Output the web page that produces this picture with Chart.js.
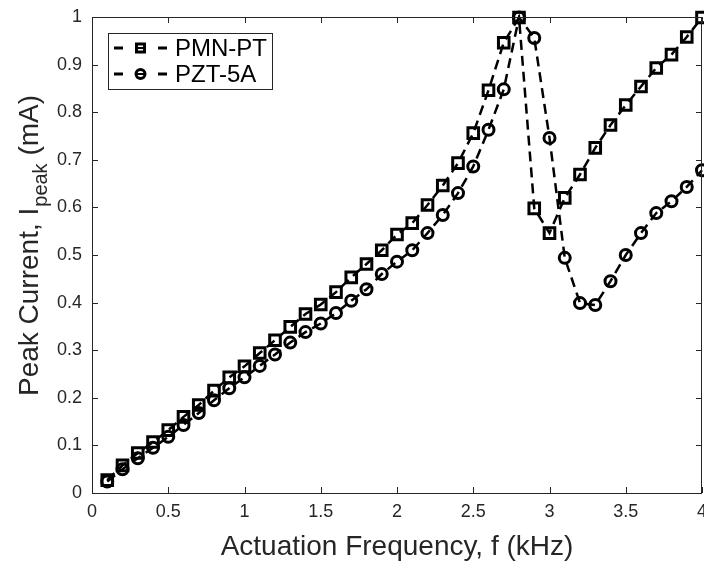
<!DOCTYPE html>
<html><head><meta charset="utf-8">
<script src="https://cdn.jsdelivr.net/npm/chart.js@4"></script>
<style>html,body{margin:0;padding:0;background:#fff}#wrap{width:704px;height:563px}</style>
</head><body><div id="wrap"><canvas id="c" width="704" height="563"></canvas></div>
<script>
const freq = [0.1,0.2,0.3,0.4,0.5,0.6,0.7,0.8,0.9,1.0,1.1,1.2,1.3,1.4,1.5,1.6,1.7,1.8,1.9,2.0,2.1,2.2,2.3,2.4,2.5,2.6,2.7,2.8,2.9,3.0,3.1,3.2,3.3,3.4,3.5,3.6,3.7,3.8,3.9,4.0];
const pmnpt = [0.027,0.058,0.084,0.107,0.132,0.160,0.185,0.215,0.243,0.266,0.294,0.321,0.349,0.376,0.396,0.422,0.453,0.481,0.510,0.543,0.567,0.605,0.646,0.693,0.756,0.846,0.946,0.999,0.598,0.546,0.620,0.669,0.725,0.773,0.815,0.854,0.893,0.921,0.958,0.999];
const pzt5a = [0.024,0.050,0.073,0.095,0.118,0.143,0.168,0.195,0.220,0.243,0.267,0.291,0.316,0.338,0.356,0.378,0.404,0.428,0.460,0.486,0.510,0.546,0.584,0.630,0.686,0.763,0.848,0.999,0.956,0.746,0.494,0.399,0.395,0.445,0.500,0.546,0.588,0.613,0.643,0.678];
const seriesNames = ['PMN-PT','PZT-5A'];
const xTicks = [0,0.5,1,1.5,2,2.5,3,3.5,4];
const yTicks = [0,0.1,0.2,0.3,0.4,0.5,0.6,0.7,0.8,0.9,1];
const xTitle = 'Actuation Frequency, f (kHz)';
const yTitleParts = ['Peak Current, I','peak',' (mA)'];

const FONT = '"Liberation Sans", Arial, sans-serif';
const TXT = '#262626';

function toPts(ys){ return freq.map((x,i)=>({x:x,y:ys[i]})); }

const decor = {
  id:'decor',
  afterDraw(chart){
    const ctx = chart.ctx, a = chart.chartArea, xs = chart.scales.x, ys = chart.scales.y;
    ctx.save();
    ctx.strokeStyle = TXT; ctx.lineWidth = 1;
    ctx.strokeRect(Math.round(a.left)+0.5, Math.round(a.top)+0.5, Math.round(a.right-a.left)-1, Math.round(a.bottom-a.top));
    ctx.beginPath();
    const tl = 6;
    xTicks.forEach(v=>{
      const px = Math.round(xs.getPixelForValue(v))+0.5;
      ctx.moveTo(px,a.bottom); ctx.lineTo(px,a.bottom-tl);
      ctx.moveTo(px,a.top); ctx.lineTo(px,a.top+tl);
    });
    yTicks.forEach(v=>{
      const py = Math.round(ys.getPixelForValue(v))+0.5;
      ctx.moveTo(a.left,py); ctx.lineTo(a.left+tl,py);
      ctx.moveTo(a.right,py); ctx.lineTo(a.right-tl,py);
    });
    ctx.stroke();
    ctx.fillStyle = TXT;
    ctx.font = '28px '+FONT;
    ctx.textAlign = 'center'; ctx.textBaseline = 'alphabetic';
    ctx.fillText(xTitle, (a.left+a.right)/2, 555);
    ctx.translate(38, 246);
    ctx.rotate(-Math.PI/2);
    const big = '28px '+FONT, small = '20px '+FONT;
    ctx.font = big; const w0 = ctx.measureText(yTitleParts[0]).width, w2 = ctx.measureText(yTitleParts[2]).width;
    ctx.font = small; const w1 = ctx.measureText(yTitleParts[1]).width;
    let x0 = -(w0+w1+w2)/2;
    ctx.textAlign = 'left';
    ctx.font = big; ctx.fillText(yTitleParts[0], x0, 0);
    ctx.font = small; ctx.fillText(yTitleParts[1], x0+w0+1, 9);
    ctx.font = big; ctx.fillText(yTitleParts[2], x0+w0+w1+1, 0);
    ctx.restore();

    ctx.save();
    const lx = 108, ly = 33, lw = 164, lh = 56;
    ctx.fillStyle = '#fff'; ctx.fillRect(lx,ly,lw,lh);
    ctx.strokeStyle = TXT; ctx.lineWidth = 1; ctx.strokeRect(lx+0.5,ly+0.5,lw,lh);
    chart.data.datasets.forEach((ds,i)=>{
      const cy = ly + 15 + i*26;
      ctx.strokeStyle = '#000'; ctx.lineWidth = 3;
      ctx.beginPath(); ctx.moveTo(lx+6,cy); ctx.lineTo(lx+15,cy); ctx.moveTo(lx+50,cy); ctx.lineTo(lx+59,cy); ctx.stroke();
      const cx = lx+32.5;
      ctx.beginPath();
      if(ds.pointStyle==='rect'){ ctx.rect(cx-4,cy-4,8,8);} else { ctx.arc(cx,cy,4.5,0,Math.PI*2);}
      ctx.stroke();
      ctx.lineWidth = 2;
      ctx.beginPath(); ctx.moveTo(cx-4,cy); ctx.lineTo(cx+4,cy); ctx.stroke();
      ctx.fillStyle = '#000'; ctx.font = '24px '+FONT; ctx.textAlign='left'; ctx.textBaseline='middle';
      ctx.fillText(seriesNames[i], lx+67, cy+1);
    });
    ctx.restore();
  }
};

new Chart(document.getElementById('c'), {
  type:'line',
  data:{datasets:[
    {label:seriesNames[0], data:toPts(pmnpt), borderColor:'#000', borderWidth:2.5, borderDash:[10,6],
     pointStyle:'rect', pointRadius:7.5, pointBorderWidth:3, pointBorderColor:'#000', pointBackgroundColor:'rgba(0,0,0,0)', tension:0, clip:false},
    {label:seriesNames[1], data:toPts(pzt5a), borderColor:'#000', borderWidth:2.5, borderDash:[10,6],
     pointStyle:'circle', pointRadius:5.5, pointBorderWidth:3, pointBorderColor:'#000', pointBackgroundColor:'rgba(0,0,0,0)', tension:0, clip:false}
  ]},
  options:{
    responsive:false, animation:false, devicePixelRatio:1,
    layout:{autoPadding:false, padding:{left:0,right:2,top:17,bottom:0}},
    plugins:{legend:{display:false},tooltip:{enabled:false}},
    scales:{
      x:{type:'linear',min:0,max:4,
        afterBuildTicks(s){ s.ticks = xTicks.map(v=>({value:v})); },
        afterFit(s){ s.height = 70; s.paddingLeft = 0; s.paddingRight = 0; },
        grid:{display:false, drawTicks:false}, border:{display:false},
        ticks:{color:TXT,font:{family:FONT,size:18},padding:8,maxRotation:0,autoSkip:false,
          callback:(v)=>String(v)}},
      y:{type:'linear',min:0,max:1,
        afterBuildTicks(s){ s.ticks = yTicks.map(v=>({value:v})); },
        afterFit(s){ s.width = 92; s.paddingTop = 0; s.paddingBottom = 0; },
        grid:{display:false, drawTicks:false}, border:{display:false},
        ticks:{color:TXT,font:{family:FONT,size:18},padding:10,autoSkip:false,
          callback:(v)=>String(v)}}
    }
  },
  plugins:[decor]
});
</script></body></html>
